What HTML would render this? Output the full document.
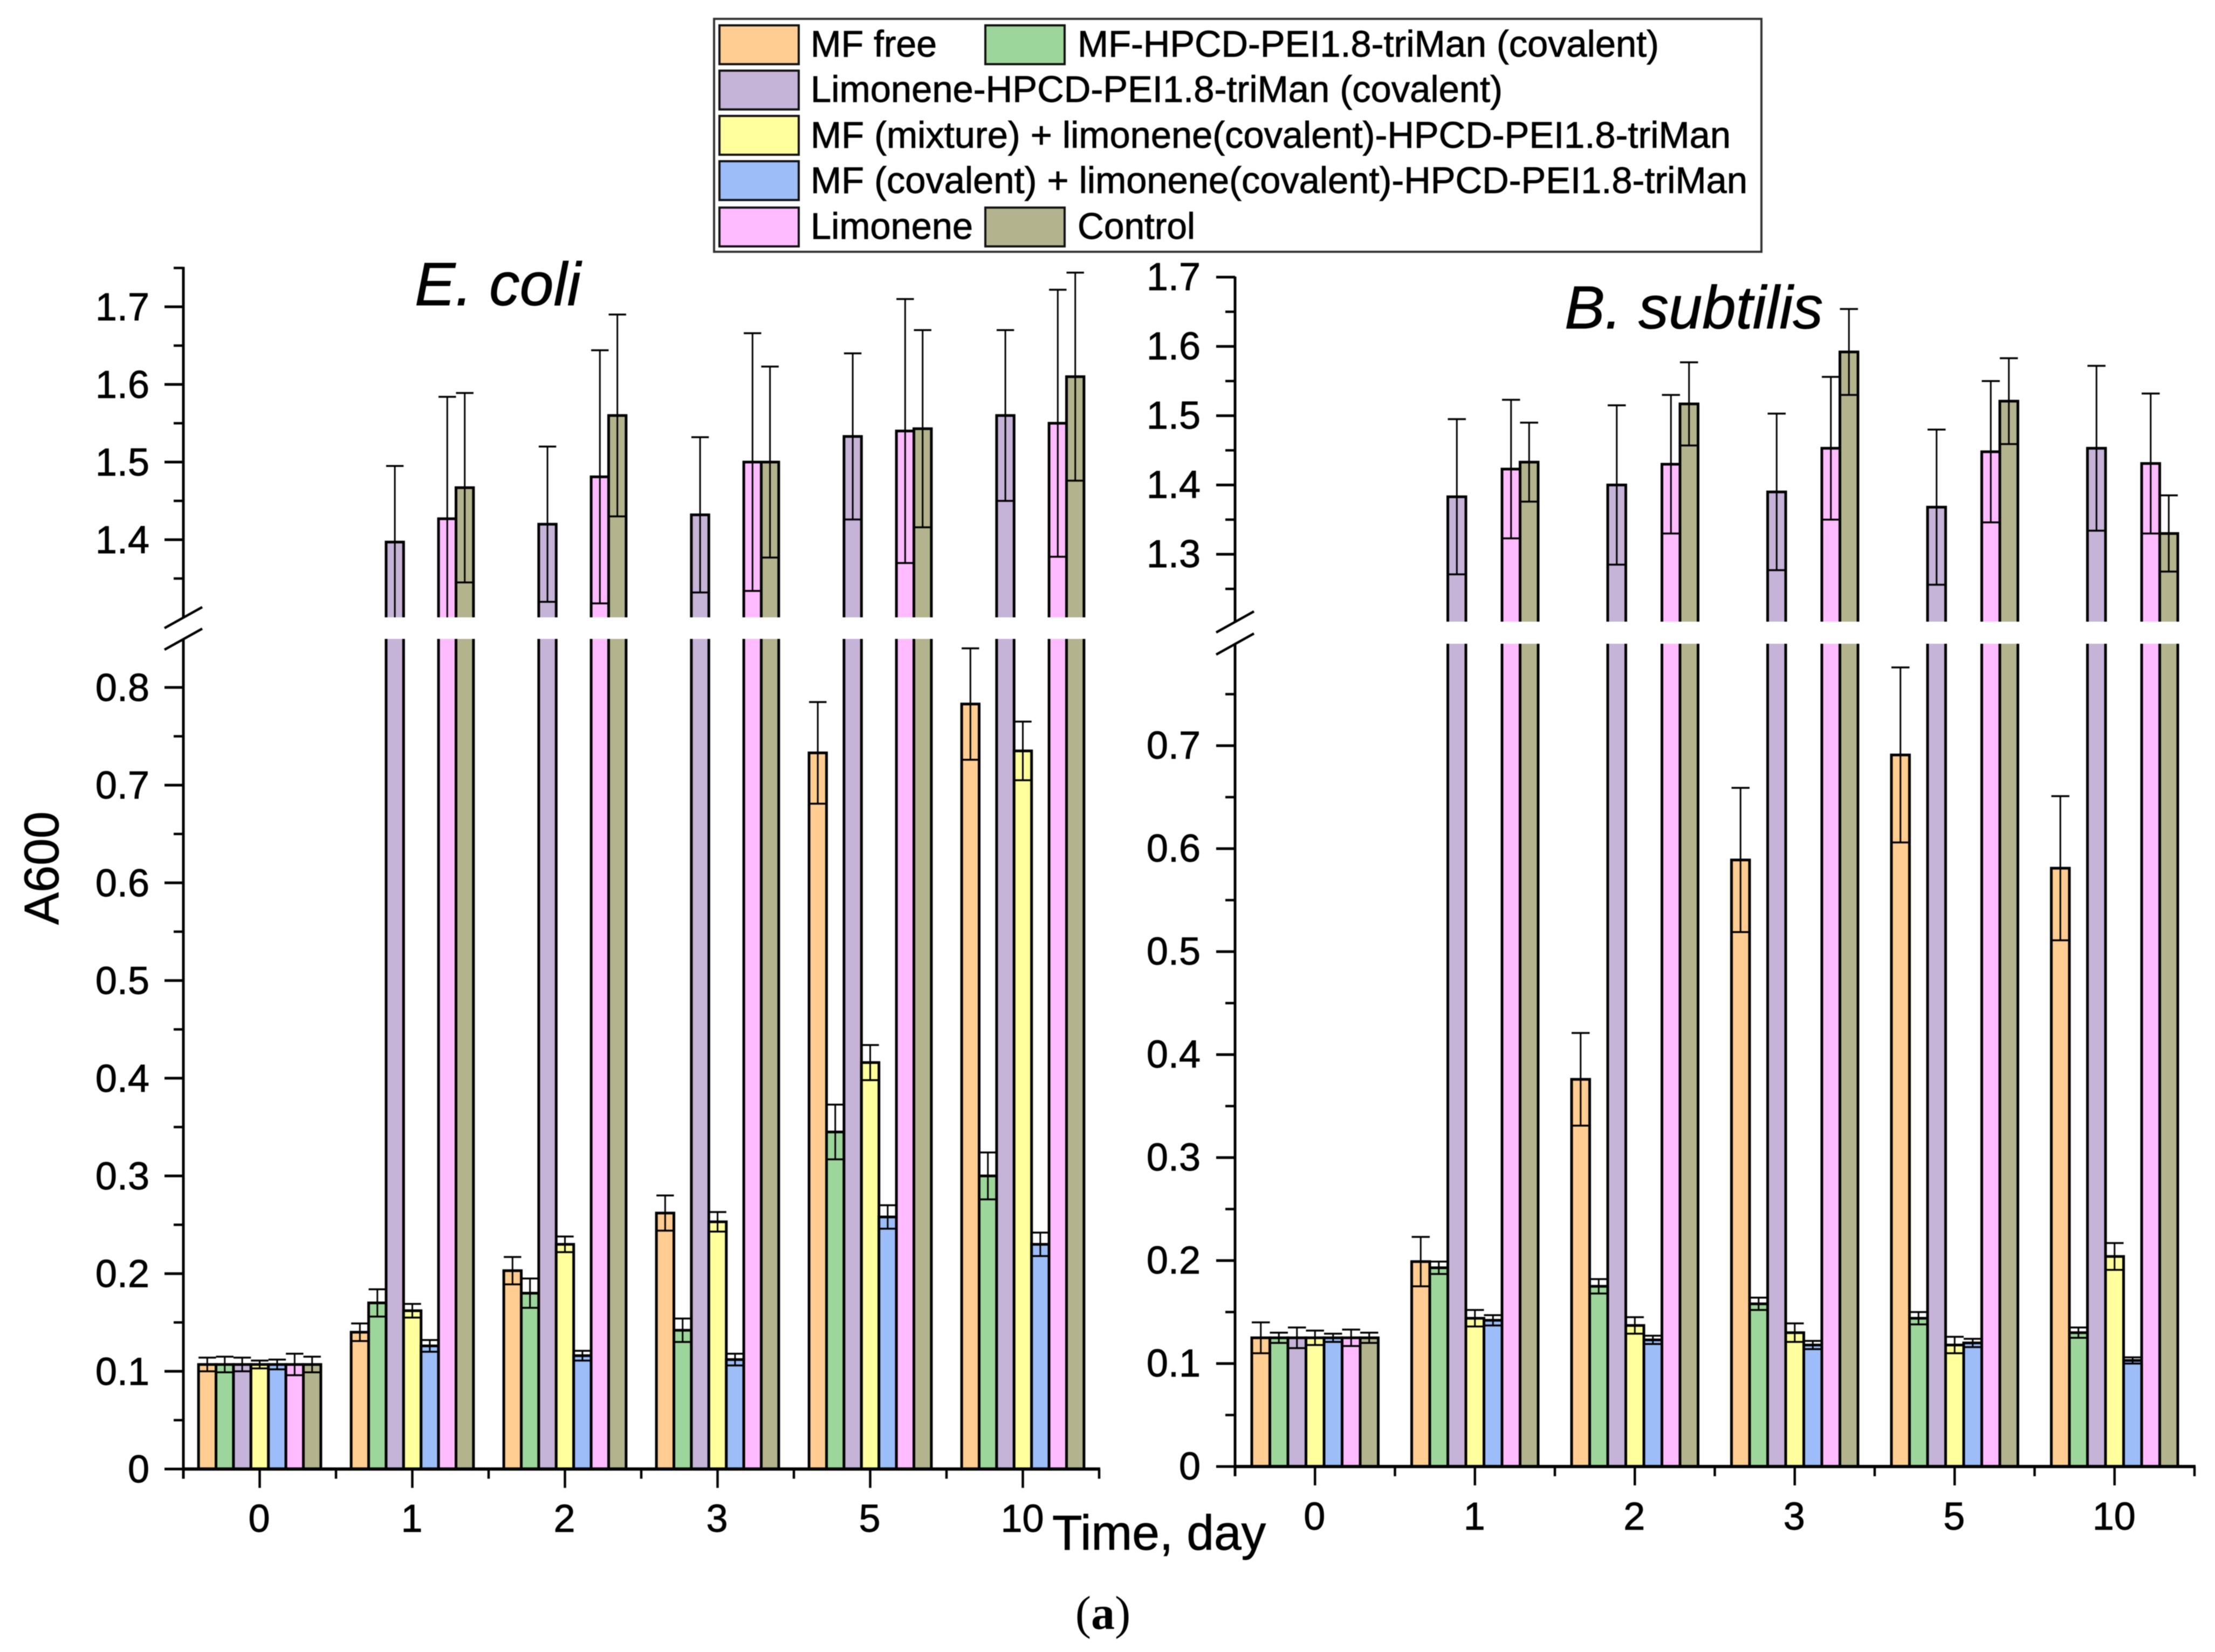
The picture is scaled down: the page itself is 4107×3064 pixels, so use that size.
<!DOCTYPE html>
<html lang="en">
<head>
<meta charset="utf-8">
<title>A600 growth curves for E. coli and B. subtilis</title>
<style>
html,body{margin:0;padding:0;background:#fff;}
svg{display:block;font-family:"Liberation Sans",sans-serif;filter:blur(0.8px);}
text{fill:#000;stroke:#000;stroke-width:0.9px;}
</style>
</head>
<body>
<svg id="figure" xmlns="http://www.w3.org/2000/svg" width="4107" height="3064" viewBox="0 0 4107 3064">
<rect x="0" y="0" width="4107" height="3064" fill="#ffffff"/>
<g id="ecoli-panel"></g>
<g id="subtilis-panel"></g>

<g>
<rect x="1324" y="35" width="1942" height="432" fill="#ffffff" stroke="#333333" stroke-width="4"/>
<g>
<rect x="1334" y="47" width="147" height="72" fill="#FFCC92" stroke="#111" stroke-width="4"/>
<text x="1503" y="105" font-size="69" textLength="234" lengthAdjust="spacingAndGlyphs">MF free</text>
</g>
<g>
<rect x="1827" y="47" width="147" height="72" fill="#9DD69A" stroke="#111" stroke-width="4"/>
<text x="1998" y="105" font-size="69" textLength="1078" lengthAdjust="spacingAndGlyphs">MF-HPCD-PEI1.8-triMan (covalent)</text>
</g>
<g>
<rect x="1334" y="131" width="147" height="72" fill="#C5B3D8" stroke="#111" stroke-width="4"/>
<text x="1503" y="189" font-size="69" textLength="1283" lengthAdjust="spacingAndGlyphs">Limonene-HPCD-PEI1.8-triMan (covalent)</text>
</g>
<g>
<rect x="1334" y="215" width="147" height="72" fill="#FFFF9E" stroke="#111" stroke-width="4"/>
<text x="1503" y="274" font-size="69" textLength="1706" lengthAdjust="spacingAndGlyphs">MF (mixture) + limonene(covalent)-HPCD-PEI1.8-triMan</text>
</g>
<g>
<rect x="1334" y="299" width="147" height="72" fill="#9CBDF7" stroke="#111" stroke-width="4"/>
<text x="1503" y="358" font-size="69" textLength="1737" lengthAdjust="spacingAndGlyphs">MF (covalent) + limonene(covalent)-HPCD-PEI1.8-triMan</text>
</g>
<g>
<rect x="1334" y="385" width="147" height="72" fill="#FFBBFF" stroke="#111" stroke-width="4"/>
<text x="1503" y="443" font-size="69" textLength="301" lengthAdjust="spacingAndGlyphs">Limonene</text>
</g>
<g>
<rect x="1827" y="385" width="147" height="72" fill="#B3B38E" stroke="#111" stroke-width="4"/>
<text x="1998" y="443" font-size="69" textLength="218" lengthAdjust="spacingAndGlyphs">Control</text>
</g>
</g>

<text x="769" y="566" font-size="113" font-style="italic">E. coli</text>
<text x="2901" y="609" font-size="112" font-style="italic">B. subtilis</text>
<text transform="translate(108,1610) rotate(-90)" text-anchor="middle" font-size="90">A600</text>
<text x="1951" y="2874" font-size="91">Time, day</text>
<text x="2045" y="3021" text-anchor="middle" font-size="88" style="font-family:'Liberation Serif',serif;stroke-width:0">(<tspan font-weight="bold">a</tspan>)</text>
</svg>

<script>
// Shared categories and series
const days = ["0", "1", "2", "3", "5", "10"];
const seriesKeys = ["mf-free", "mf-hpcd", "limonene-hpcd", "mf-mixture", "mf-covalent", "limonene", "control"];
const seriesColors = ["#FFCC92", "#9DD69A", "#C5B3D8", "#FFFF9E", "#9CBDF7", "#FFBBFF", "#B3B38E"];

// E. coli means, by day
const ecoliMfFree = [0.107, 0.140, 0.203, 0.262, 0.733, 0.783];
const ecoliMfHpcd = [0.107, 0.170, 0.180, 0.142, 0.345, 0.300];
const ecoliLimHpcd = [0.107, 1.397, 1.420, 1.432, 1.533, 1.560];
const ecoliMixture = [0.107, 0.162, 0.230, 0.253, 0.416, 0.735];
const ecoliCovalent = [0.107, 0.126, 0.116, 0.112, 0.258, 0.230];
const ecoliLimonene = [0.107, 1.427, 1.481, 1.500, 1.540, 1.550];
const ecoliControl = [0.107, 1.467, 1.560, 1.500, 1.543, 1.610];

// E. coli errors, by day
const ecoliMfFreeErr = [0.007, 0.009, 0.014, 0.018, 0.052, 0.057];
const ecoliMfHpcdErr = [0.008, 0.014, 0.015, 0.012, 0.028, 0.024];
const ecoliLimHpcdErr = [0.007, 0.098, 0.100, 0.100, 0.107, 0.110];
const ecoliMixtureErr = [0.004, 0.007, 0.008, 0.010, 0.018, 0.030];
const ecoliCovalentErr = [0.005, 0.006, 0.005, 0.006, 0.012, 0.012];
const ecoliLimoneneErr = [0.011, 0.157, 0.163, 0.166, 0.170, 0.172];
const ecoliControlErr = [0.008, 0.122, 0.130, 0.123, 0.127, 0.134];

// B. subtilis means, by day
const subtilisMfFree = [0.125, 0.199, 0.376, 0.589, 0.691, 0.581];
const subtilisMfHpcd = [0.125, 0.193, 0.175, 0.158, 0.144, 0.130];
const subtilisLimHpcd = [0.125, 1.383, 1.400, 1.390, 1.368, 1.453];
const subtilisMixture = [0.125, 0.144, 0.137, 0.130, 0.118, 0.204];
const subtilisCovalent = [0.125, 0.142, 0.123, 0.118, 0.120, 0.103];
const subtilisLimonene = [0.125, 1.423, 1.430, 1.453, 1.448, 1.431];
const subtilisControl = [0.125, 1.433, 1.517, 1.592, 1.521, 1.330];

// B. subtilis errors, by day
const subtilisMfFreeErr = [0.015, 0.024, 0.045, 0.070, 0.085, 0.070];
const subtilisMfHpcdErr = [0.005, 0.006, 0.007, 0.006, 0.006, 0.005];
const subtilisLimHpcdErr = [0.010, 0.112, 0.115, 0.113, 0.112, 0.119];
const subtilisMixtureErr = [0.007, 0.008, 0.008, 0.009, 0.008, 0.013];
const subtilisCovalentErr = [0.004, 0.005, 0.004, 0.004, 0.004, 0.003];
const subtilisLimoneneErr = [0.008, 0.100, 0.100, 0.103, 0.102, 0.101];
const subtilisControlErr = [0.005, 0.057, 0.060, 0.062, 0.062, 0.055];

// Tick labels
const ecoliLowerTicks = ["0", "0.1", "0.2", "0.3", "0.4", "0.5", "0.6", "0.7", "0.8"];
const ecoliLowerMinor = ["0.05", "0.15", "0.25", "0.35", "0.45", "0.55", "0.65", "0.75"];
const ecoliUpperTicks = ["1.4", "1.5", "1.6", "1.7"];
const ecoliUpperMinor = ["1.35", "1.45", "1.55", "1.65", "1.75"];
const subtilisLowerTicks = ["0", "0.1", "0.2", "0.3", "0.4", "0.5", "0.6", "0.7"];
const subtilisLowerMinor = ["0.05", "0.15", "0.25", "0.35", "0.45", "0.55", "0.65", "0.75"];
const subtilisUpperTicks = ["1.3", "1.4", "1.5", "1.6", "1.7"];
const subtilisUpperMinor = ["1.25", "1.35", "1.45", "1.55", "1.65"];

const SVG_NS = "http://www.w3.org/2000/svg";

function addShape(parent, tag) {
  const el = document.createElementNS(SVG_NS, tag);
  parent.appendChild(el);
  return el;
}

function drawLine(parent, x1, y1, x2, y2, width, name) {
  const el = addShape(parent, "line");
  el.setAttribute("x1", x1);
  el.setAttribute("y1", y1);
  el.setAttribute("x2", x2);
  el.setAttribute("y2", y2);
  el.setAttribute("stroke", "#000");
  el.setAttribute("stroke-width", width);
  
  
  return el;
}

function drawLabel(parent, x, y, anchor, content, name) {
  const el = addShape(parent, "text");
  el.setAttribute("x", x);
  el.setAttribute("y", y);
  el.setAttribute("text-anchor", anchor);
  el.setAttribute("font-size", 72);
  el.textContent = content;
  
  
  return el;
}

function drawPanel(root, cfg) {
  const yLow = function (v) { return cfg.zeroY - v * cfg.lowUnit; };
  const yHigh = function (v) { return cfg.highRefY - (v - cfg.highRef) * cfg.highUnit; };
  const yOf = function (v) { return v >= cfg.breakHighValue ? yHigh(v) : yLow(v); };
  const xCenter = function (i) { return cfg.axisX + (i + 0.5) * cfg.groupW; };
  const xBar = function (i, s) { return xCenter(i) + (s - 3.5) * cfg.barW; };

  // Bars
  cfg.values.forEach(function (series, s) {
    series.forEach(function (v, i) {
      const x = xBar(i, s);
      const w = cfg.barW;
      const tall = v >= cfg.breakHighValue;
      const lower = addShape(root, "path");
      const topLower = tall ? cfg.breakLowY : yLow(v);
      let d = "M" + x + " " + cfg.zeroY + "V" + topLower + "H" + (x + w) + "V" + cfg.zeroY + "Z";
      if (tall) {
        d = "M" + x + " " + topLower + "V" + cfg.zeroY + "H" + (x + w) + "V" + topLower;
      }
      lower.setAttribute("d", d);
      lower.setAttribute("fill", seriesColors[s]);
      lower.setAttribute("stroke", "#000");
      lower.setAttribute("stroke-width", 5);
      
      
      if (tall) {
        const upper = addShape(root, "path");
        upper.setAttribute("d", "M" + x + " " + cfg.breakHighY + "V" + yHigh(v) + "H" + (x + w) + "V" + cfg.breakHighY);
        upper.setAttribute("fill", seriesColors[s]);
        upper.setAttribute("stroke", "#000");
        upper.setAttribute("stroke-width", 5);
        
        
      }
    });
  });

  // Error bars
  cfg.errors.forEach(function (series, s) {
    series.forEach(function (e, i) {
      const v = cfg.values[s][i];
      const x = xBar(i, s);
      const cx = x + cfg.barW / 2;
      const tall = v >= cfg.breakHighValue;
      const hi = yOf(v + e);
      const floorY = tall ? cfg.breakHighY : cfg.zeroY;
      const rawLo = yOf(v - e);
      const clipped = rawLo >= floorY || (tall && v - e < cfg.breakHighValue);
      const lo = clipped ? floorY : rawLo;
      const base = 'error-' + seriesKeys[s] + '-day-' + days[i];
      drawLine(root, cx, hi, cx, lo, 3, base + '-stem');
      drawLine(root, x, hi, x + cfg.barW, hi, 3.5, base + '-cap-top');
      if (!clipped) {
        drawLine(root, x, lo, x + cfg.barW, lo, 3.5, base + '-cap-bottom');
      }
    });
  });

  // Y axis
  drawLine(root, cfg.axisX, cfg.axisTopY, cfg.axisX, cfg.breakHighY, 5, 'y-axis-upper');
  drawLine(root, cfg.axisX, cfg.breakLowY, cfg.axisX, cfg.zeroY + 18, 5, 'y-axis-lower');
  drawLine(root, cfg.axisX - 35, cfg.breakHighY + 20, cfg.axisX + 35, cfg.breakHighY - 19, 4.5, 'axis-break-mark-upper');
  drawLine(root, cfg.axisX - 35, cfg.breakLowY + 20, cfg.axisX + 35, cfg.breakLowY - 19, 4.5, 'axis-break-mark-lower');

  cfg.lowerTicks.forEach(function (t) {
    const v = parseFloat(t);
    drawLine(root, cfg.axisX - 35, yLow(v), cfg.axisX, yLow(v), 5, 'y-tick-' + t);
    drawLabel(root, cfg.labelRight, yLow(v) + cfg.labelDy, "end", t, 'y-tick-label-' + t);
  });
  cfg.upperTicks.forEach(function (t) {
    const v = parseFloat(t);
    drawLine(root, cfg.axisX - 35, yHigh(v), cfg.axisX, yHigh(v), 5, 'y-tick-' + t);
    drawLabel(root, cfg.labelRight, yHigh(v) + cfg.labelDy, "end", t, 'y-tick-label-' + t);
  });
  cfg.lowerMinor.concat(cfg.upperMinor).forEach(function (t) {
    const v = parseFloat(t);
    const y = yOf(v);
    drawLine(root, cfg.axisX - 18, y, cfg.axisX, y, 4.5, 'y-minor-tick-' + t);
  });

  // X axis
  drawLine(root, cfg.axisX - 2, cfg.zeroY, cfg.axisX + days.length * cfg.groupW + 2, cfg.zeroY, 6, 'x-axis');
  days.forEach(function (d, i) {
    drawLine(root, xCenter(i), cfg.zeroY, xCenter(i), cfg.zeroY + 35, 4.5, 'x-tick-day-' + d);
    drawLabel(root, xCenter(i) - 1, cfg.xLabelY, "middle", d, 'x-tick-label-day-' + d);
  });
  for (let k = 1; k <= days.length; k++) {
    const x = cfg.axisX + k * cfg.groupW;
    drawLine(root, x, cfg.zeroY, x, cfg.zeroY + 18, 4.5, 'x-minor-tick-' + k);
  }
}

drawPanel(document.getElementById("ecoli-panel"), {
  axisX: 340, groupW: 283, barW: 32.4,
  zeroY: 2724.6, lowUnit: 1812,
  highRef: 1.4, highRefY: 1001, highUnit: 1440,
  axisTopY: 495, breakHighY: 1145, breakLowY: 1185, breakHighValue: 1.2,
  labelRight: 277, labelDy: 25, xLabelY: 2841,
  values: [ecoliMfFree, ecoliMfHpcd, ecoliLimHpcd, ecoliMixture, ecoliCovalent, ecoliLimonene, ecoliControl],
  errors: [ecoliMfFreeErr, ecoliMfHpcdErr, ecoliLimHpcdErr, ecoliMixtureErr, ecoliCovalentErr, ecoliLimoneneErr, ecoliControlErr],
  lowerTicks: ecoliLowerTicks, lowerMinor: ecoliLowerMinor,
  upperTicks: ecoliUpperTicks, upperMinor: ecoliUpperMinor
});

drawPanel(document.getElementById("subtilis-panel"), {
  axisX: 2290, groupW: 296.5, barW: 33.5,
  zeroY: 2720, lowUnit: 1910,
  highRef: 1.4, highRefY: 899.5, highUnit: 1285,
  axisTopY: 513, breakHighY: 1153, breakLowY: 1194, breakHighValue: 1.1,
  labelRight: 2226, labelDy: 24, xLabelY: 2837,
  values: [subtilisMfFree, subtilisMfHpcd, subtilisLimHpcd, subtilisMixture, subtilisCovalent, subtilisLimonene, subtilisControl],
  errors: [subtilisMfFreeErr, subtilisMfHpcdErr, subtilisLimHpcdErr, subtilisMixtureErr, subtilisCovalentErr, subtilisLimoneneErr, subtilisControlErr],
  lowerTicks: subtilisLowerTicks, lowerMinor: subtilisLowerMinor,
  upperTicks: subtilisUpperTicks, upperMinor: subtilisUpperMinor
});
</script>
</body>
</html>
